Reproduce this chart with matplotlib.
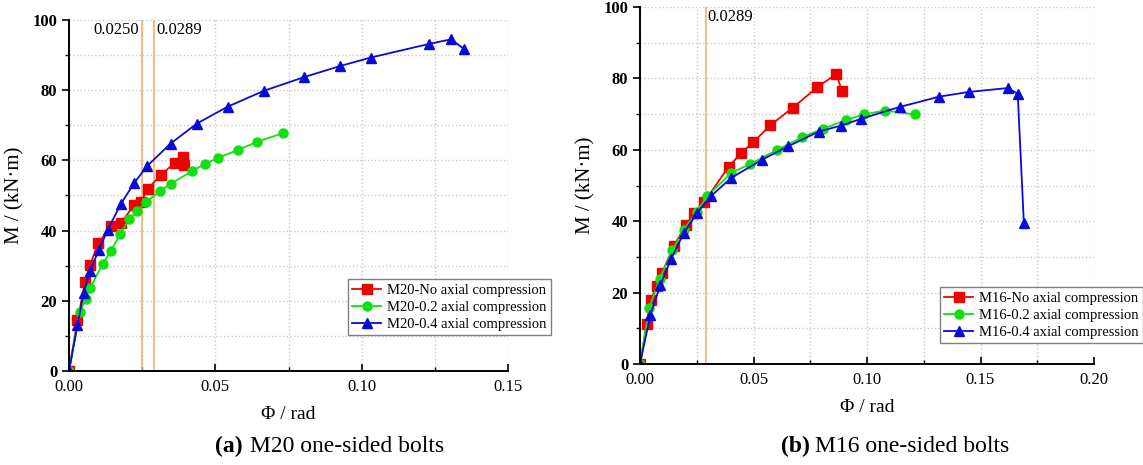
import matplotlib
matplotlib.use("Agg")
import matplotlib.pyplot as plt
from matplotlib.ticker import MultipleLocator

plt.rcParams['font.family'] = ['Liberation Serif', 'DejaVu Serif']

# (a) M20 one-sided bolts
m20_no_phi = [0, 0.0029, 0.0055, 0.0073, 0.0099, 0.0144, 0.0179, 0.0223, 0.0245, 0.0269,
              0.0315, 0.0361, 0.0388, 0.0394]
m20_no_m = [0, 14.4, 25.3, 30.3, 36.4, 41.2, 42.3, 47.4, 48.1, 51.9, 55.9, 59.3, 61.0, 58.6]

m20_02_phi = [0, 0.0036, 0.0058, 0.0072, 0.0115, 0.0144, 0.0175, 0.0206, 0.0234, 0.0263,
              0.0310, 0.0349, 0.0419, 0.0463, 0.0509, 0.0578, 0.0643, 0.0732]
m20_02_m = [0, 16.7, 20.6, 23.6, 30.5, 34.3, 39.0, 43.3, 45.7, 48.1, 51.2, 53.4, 56.9,
            58.9, 60.7, 63.0, 65.3, 67.8]

m20_04_phi = [0, 0.0029, 0.0050, 0.0071, 0.0102, 0.0132, 0.0178, 0.0223, 0.0266, 0.0347,
              0.0437, 0.0542, 0.0665, 0.0802, 0.0927, 0.1031, 0.1231, 0.1306, 0.1349]
m20_04_m = [0, 13.1, 22.2, 28.4, 34.5, 40.2, 47.7, 53.6, 58.3, 64.8, 70.5, 75.3, 79.8,
            83.7, 86.9, 89.3, 93.2, 94.5, 91.8]

# (b) M16 one-sided bolts
m16_no_phi = [0, 0.0029, 0.0048, 0.0073, 0.0097, 0.0149, 0.0203, 0.0238, 0.0284, 0.0391,
              0.0447, 0.0499, 0.0574, 0.0674, 0.0780, 0.0865, 0.0889]
m16_no_m = [0, 11.1, 17.9, 21.8, 25.5, 33.1, 39.0, 42.3, 45.5, 55.3, 59.2, 62.1, 66.9,
            71.8, 77.5, 81.2, 76.6]

m16_02_phi = [0, 0.0040, 0.0086, 0.0143, 0.0193, 0.0249, 0.0296, 0.0403, 0.0485, 0.0602,
              0.0713, 0.0807, 0.0906, 0.0986, 0.1078, 0.1212]
m16_02_m = [0, 15.6, 23.8, 31.9, 37.6, 42.6, 47.0, 53.6, 56.0, 59.9, 63.5, 65.9, 68.3,
            69.9, 71.0, 69.9]

m16_04_phi = [0, 0.0046, 0.0089, 0.0136, 0.0193, 0.0250, 0.0312, 0.0401, 0.0537, 0.0653,
              0.0788, 0.0886, 0.0975, 0.1144, 0.1319, 0.1448, 0.1620, 0.1664, 0.1691]
m16_04_m = [0, 13.8, 22.0, 29.3, 36.7, 42.2, 47.0, 52.1, 57.2, 61.0, 65.1, 66.8, 68.7,
            72.0, 74.9, 76.2, 77.3, 75.7, 39.5]

m20_lines = [0.0250, 0.0289]
m16_lines = [0.0289]

red, green, blue, orange = '#f00000', '#10e010', '#0a0ad8', '#f0b070'

fig = plt.figure(figsize=(11.43, 4.65), dpi=100)
ax1 = fig.add_axes([69 / 1143, 94 / 465, 439 / 1143, 351 / 465])
ax2 = fig.add_axes([640 / 1143, 101 / 465, 454 / 1143, 357 / 465])


def style(ax, xmax):
    ax.set_xlim(0, xmax)
    ax.set_ylim(0, 100)
    ax.xaxis.set_major_locator(MultipleLocator(0.05))
    ax.xaxis.set_minor_locator(MultipleLocator(0.025))
    ax.yaxis.set_major_locator(MultipleLocator(20))
    ax.yaxis.set_minor_locator(MultipleLocator(10))
    ax.xaxis.set_major_formatter(plt.FormatStrFormatter('%.2f'))
    ax.grid(which='both', ls=':', color='#c8c8c8', lw=1.0)
    ax.set_axisbelow(True)
    for s in ['top', 'right']:
        ax.spines[s].set_visible(False)
    for s in ['left', 'bottom']:
        ax.spines[s].set_linewidth(1.4)
    ax.tick_params(axis='y', which='major', direction='out', length=5, width=1.2, labelsize=12)
    ax.tick_params(axis='y', which='minor', direction='out', length=3, width=1.0)
    ax.tick_params(axis='x', which='major', direction='in', length=5, width=1.2, labelsize=12, pad=6)
    ax.tick_params(axis='x', which='minor', direction='in', length=3, width=1.0)
    for lab in ax.get_yticklabels():
        lab.set_fontweight('bold')
    ax.set_xlabel('Φ / rad', fontsize=14, labelpad=8)
    ax.set_ylabel('M / (kN·m)', fontsize=15, labelpad=6)


style(ax1, 0.15)
style(ax2, 0.20)

for xv in m20_lines:
    ax1.axvline(xv, color=orange, lw=1.2, zorder=1)
ax1.text(0.0240, 99.5, '0.0250', ha='right', va='top', fontsize=12)
ax1.text(0.0297, 99.5, '0.0289', ha='left', va='top', fontsize=12)
for xv in m16_lines:
    ax2.axvline(xv, color=orange, lw=1.2, zorder=1)
ax2.text(0.0297, 99.5, '0.0289', ha='left', va='top', fontsize=12)

kw = dict(lw=1.3, ms=6.5)
ax1.plot(m20_no_phi, m20_no_m, '-s', color=red, label='M20-No axial compression', **kw)
ax1.plot(m20_02_phi, m20_02_m, '-o', color=green, label='M20-0.2 axial compression', **kw)
ax1.plot(m20_04_phi, m20_04_m, '-^', color=blue, label='M20-0.4 axial compression', **kw)

ax2.plot(m16_no_phi, m16_no_m, '-s', color=red, label='M16-No axial compression', **kw)
ax2.plot(m16_02_phi, m16_02_m, '-o', color=green, label='M16-0.2 axial compression', **kw)
ax2.plot(m16_04_phi, m16_04_m, '-^', color=blue, label='M16-0.4 axial compression', **kw)

for ax, anchor in [(ax1, (551 / 1143, 130 / 465)), (ax2, (1143 / 1143, 122 / 465))]:
    leg = ax.legend(loc='lower right', bbox_to_anchor=anchor, bbox_transform=fig.transFigure,
                    fontsize=10.5, fancybox=False, framealpha=1,
                    edgecolor='#808080', handlelength=2.0, borderpad=0.3,
                    labelspacing=0.25, handletextpad=0.4, borderaxespad=0)
    leg.get_frame().set_linewidth(1.0)

cap_y = 1 - 446 / 465
fig.text(243 / 1143, cap_y, '(a)', fontsize=17, fontweight='bold', ha='right', va='center')
fig.text(250 / 1143, cap_y, 'M20 one-sided bolts', fontsize=17, ha='left', va='center')
fig.text(810 / 1143, cap_y, '(b)', fontsize=17, fontweight='bold', ha='right', va='center')
fig.text(815 / 1143, cap_y, 'M16 one-sided bolts', fontsize=17, ha='left', va='center')

fig.savefig('out.png', dpi=100)
